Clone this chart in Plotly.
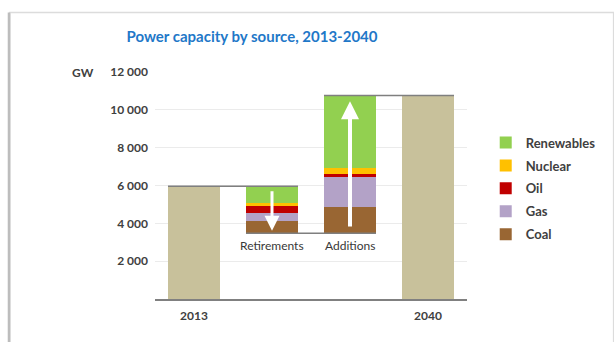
import plotly.graph_objects as go

# ---- data ----
categories = ["2013", "Retirements", "Additions", "2040"]
total_2013 = 5960
total_2040 = 10760
sources = ["Coal", "Gas", "Oil", "Nuclear", "Renewables"]
retirements = [650, 430, 380, 110, 910]
additions = [1370, 1640, 100, 320, 3850]
colors = ["#996633", "#b3a2c7", "#c00000", "#ffc000", "#92d050"]
total_color = "#c8c19b"
ytick_vals = [2000, 4000, 6000, 8000, 10000, 12000]
ytick_text = ["2 000", "4 000", "6 000", "8 000", "10 000", "12 000"]

FONT = "Lato"
BW = 0.667
xi = list(range(len(categories)))

ret_total = sum(retirements)
add_total = sum(additions)
low = total_2013 - ret_total  # level after retirements

fig = go.Figure()

# totals
fig.add_trace(go.Bar(x=[xi[0], xi[3]], y=[total_2013, total_2040], width=BW,
                     marker=dict(color=total_color, line=dict(width=0)),
                     showlegend=False, hoverinfo="skip"))

# stacked floating segments
ret_base = low
add_base = low
n = len(sources)
for i, (name, r, a, c) in enumerate(zip(sources, retirements, additions, colors)):
    fig.add_trace(go.Bar(x=[xi[1], xi[2]], y=[r, a], base=[ret_base, add_base],
                         width=BW, name=name, legendgroup=name, legendrank=n - i,
                         marker=dict(color=c, line=dict(width=0))))
    ret_base += r
    add_base += a

h = BW / 2
line_style = dict(color="#7f7f7f", width=1.5)
shapes = [
    dict(type="line", xref="x", yref="y", x0=xi[0] - h, x1=xi[1] + h,
         y0=total_2013, y1=total_2013, line=line_style, layer="above"),
    dict(type="line", xref="x", yref="y", x0=xi[1] - h, x1=xi[2] + h,
         y0=low, y1=low, line=line_style, layer="above"),
    dict(type="line", xref="x", yref="y", x0=xi[2] - h, x1=xi[3] + h,
         y0=total_2040, y1=total_2040, line=line_style, layer="above"),
    # frame
    dict(type="rect", xref="paper", yref="paper", x0=-0.465, x1=1.47, y0=-0.3, y1=1.262,
         line=dict(color="#dcdcdc", width=1.5), layer="below"),
    dict(type="line", xref="paper", yref="paper", x0=-0.468, x1=-0.468, y0=-0.3, y1=1.262,
         line=dict(color="#bdbdbd", width=2.5)),
]

annotations = [
    dict(x=xi[1], y=low, xref="x", yref="y", text="Retirements", showarrow=False,
         yanchor="top", yshift=-3, font=dict(family=FONT, size=12, color="#383838")),
    dict(x=xi[2], y=low, xref="x", yref="y", text="Additions", showarrow=False,
         yanchor="top", yshift=-3, font=dict(family=FONT, size=12, color="#383838")),
    dict(x=-0.232, y=1.0, xref="paper", yref="paper", text="GW", showarrow=False,
         xanchor="center", yanchor="middle",
         font=dict(family=FONT, size=12, color="#404040", weight="bold")),
    # arrows
    dict(x=xi[1], y=low + 130, ax=xi[1], ay=total_2013 - 180, xref="x", yref="y",
         axref="x", ayref="y", text="", showarrow=True, arrowhead=2, arrowsize=1,
         arrowwidth=3, arrowcolor="white"),
    dict(x=xi[2], y=total_2040 - 300, ax=xi[2], ay=low + 270, xref="x", yref="y",
         axref="x", ayref="y", text="", showarrow=True, arrowhead=2, arrowsize=0.9,
         arrowwidth=4, arrowcolor="white"),
]

fig.update_layout(
    width=614, height=342,
    margin=dict(l=155, r=147, t=72, b=43),
    paper_bgcolor="white", plot_bgcolor="white",
    barmode="overlay", bargap=0,
    font=dict(family=FONT, size=12, color="#404040"),
    title=dict(text="<b>Power capacity by source, 2013-2040</b>", xref="container",
               x=252 / 614, xanchor="center", yref="container", y=1 - 37 / 342,
               yanchor="middle", font=dict(family=FONT, size=15, color="#1f78c8")),
    xaxis=dict(range=[-0.5, 3.5], tickvals=[xi[0], xi[3]], ticktext=[categories[0], categories[3]],
               showgrid=False, showline=True, linecolor="#808080", linewidth=1.5,
               ticks="", zeroline=False, ticklabelstandoff=5,
               tickfont=dict(family=FONT, size=12, color="#404040", weight="bold")),
    yaxis=dict(range=[0, 12000], tickvals=ytick_vals, ticktext=ytick_text,
               showgrid=True, gridcolor="#ebebeb", gridwidth=1, showline=False,
               zeroline=False, ticks="", ticklabelstandoff=6,
               tickfont=dict(family=FONT, size=12, color="#404040", weight="bold")),
    legend=dict(x=1.06, y=0.755, xanchor="left", yanchor="top", traceorder="grouped",
                tracegroupgap=3, font=dict(family=FONT, size=13, color="#404040", weight="bold"),
                bgcolor="rgba(0,0,0,0)", itemwidth=30),
    shapes=shapes, annotations=annotations,
)

fig.write_html("out.html")
